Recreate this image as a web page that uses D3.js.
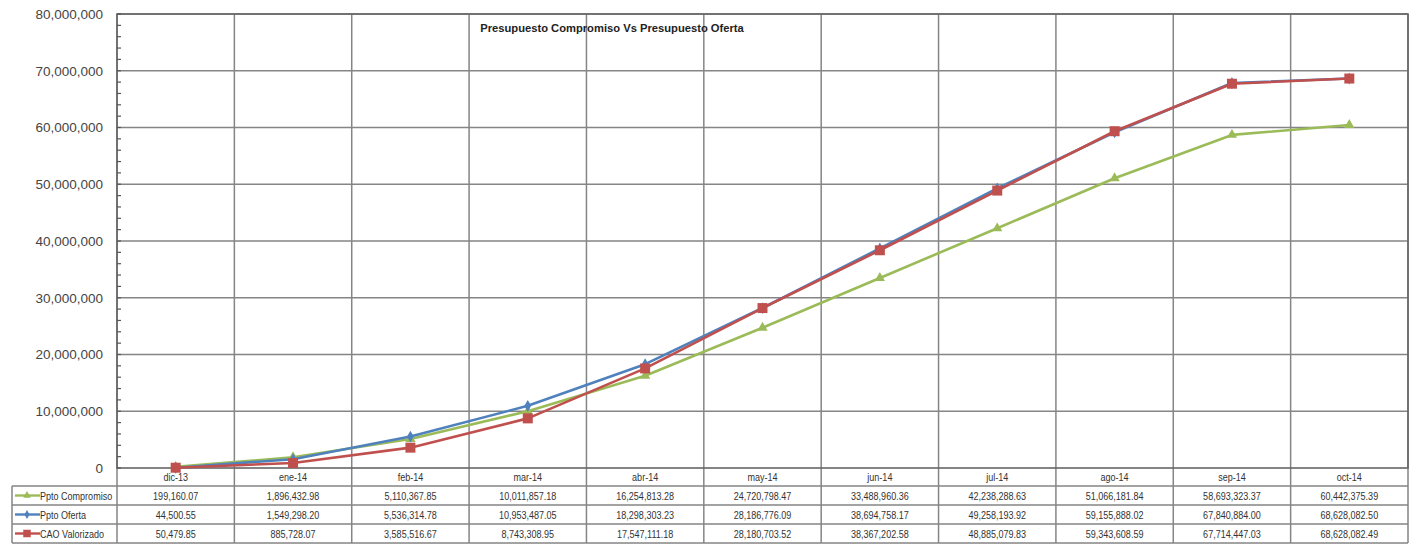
<!DOCTYPE html>
<html>
<head>
<meta charset="utf-8">
<script src="https://cdn.jsdelivr.net/npm/d3@7"></script>
<style>
  html, body { margin: 0; padding: 0; background: #fff; }
  svg { display: block; }
  text { font-family: "Liberation Sans", Arial, sans-serif; }
</style>
</head>
<body>
<svg id="chart" width="1415" height="547"></svg>
<script>
// Months shown on the category axis
const months = ["dic-13", "ene-14", "feb-14", "mar-14", "abr-14", "may-14", "jun-14", "jul-14", "ago-14", "sep-14", "oct-14"];

// Cumulative amounts per series
const pptoCompromiso = [199160.07, 1896432.98, 5110367.85, 10011857.18, 16254813.28, 24720798.47, 33488960.36, 42238288.63, 51066181.84, 58693323.37, 60442375.39];
const pptoOferta = [44500.55, 1549298.20, 5536314.78, 10953487.05, 18298303.23, 28186776.09, 38694758.17, 49258193.92, 59155888.02, 67840884.00, 68628082.50];
const caoValorizado = [50479.85, 885728.07, 3585516.67, 8743308.95, 17547111.18, 28180703.52, 38367202.58, 48885079.83, 59343608.59, 67714447.03, 68628082.49];

// Value axis ticks
const yTicks = [0, 10000000, 20000000, 30000000, 40000000, 50000000, 60000000, 70000000, 80000000];

const title = "Presupuesto Compromiso Vs Presupuesto Oferta";

const series = [
  { name: "Ppto Compromiso", values: pptoCompromiso, color: "#9BBB59", marker: "triangle" },
  { name: "Ppto Oferta", values: pptoOferta, color: "#4F81BD", marker: "diamond" },
  { name: "CAO Valorizado", values: caoValorizado, color: "#C0504D", marker: "square" }
];

const svg = d3.select("#chart");
const plot = { left: 117, right: 1408, top: 14, bottom: 468 };

const x = d3.scaleBand().domain(months).range([plot.left, plot.right]).padding(0);
const y = d3.scaleLinear().domain([0, 80000000]).range([plot.bottom, plot.top]);

const gridColor = "#858585";

// Horizontal gridlines
svg.append("g").selectAll("line").data(yTicks.slice(1)).join("line")
  .attr("x1", plot.left).attr("x2", plot.right)
  .attr("y1", d => y(d)).attr("y2", d => y(d))
  .attr("stroke", gridColor).attr("stroke-width", 1.5);

// Table rows geometry
const rowTop = 486, rowH = 19;
const tableBottom = rowTop + rowH * series.length;

// Vertical lines: run through the plot and the data table
const bounds = months.map(m => x(m)).concat([plot.right]);
svg.append("g").selectAll("line").data(bounds).join("line")
  .attr("x1", d => d).attr("x2", d => d)
  .attr("y1", plot.top).attr("y2", tableBottom)
  .attr("stroke", gridColor).attr("stroke-width", 1.5);

// Plot frame
svg.append("rect")
  .attr("x", plot.left).attr("y", plot.top)
  .attr("width", plot.right - plot.left).attr("height", plot.bottom - plot.top)
  .attr("fill", "none").attr("stroke", "#666").attr("stroke-width", 1.6);

// Y axis with minor ticks pointing inward
const yAxis = d3.axisLeft(y).tickValues(yTicks).tickSize(0).tickPadding(14)
  .tickFormat(d3.format(","));
const gy = svg.append("g").attr("transform", `translate(${plot.left},0)`).call(yAxis);
gy.select(".domain").remove();
gy.selectAll("text").attr("font-size", 13.5).attr("fill", "#444");

const minor = d3.range(0, 80000001, 2000000);
svg.append("g").selectAll("line").data(minor).join("line")
  .attr("x1", plot.left).attr("x2", plot.left + 4)
  .attr("y1", d => y(d)).attr("y2", d => y(d))
  .attr("stroke", "#555").attr("stroke-width", 1.2);

// Title
svg.append("text")
  .attr("x", 612).attr("y", 32)
  .attr("text-anchor", "middle")
  .attr("font-size", 11.2).attr("font-weight", "bold").attr("fill", "#222")
  .text(title);

// Marker shapes
function markerPath(type) {
  if (type === "triangle") return d3.symbol(d3.symbolTriangle, 45)();
  if (type === "diamond") return d3.symbol(d3.symbolDiamond, 40)();
  return d3.symbol(d3.symbolSquare, 100)();
}

const cx = d => x(d) + x.bandwidth() / 2;
const line = d3.line().x(d => cx(d.m)).y(d => y(d.v));

series.forEach(s => {
  const pts = s.values.map((v, i) => ({ m: months[i], v }));
  const g = svg.append("g");
  g.append("path").datum(pts).attr("d", line)
    .attr("fill", "none").attr("stroke", s.color).attr("stroke-width", 2.6)
    .attr("stroke-linejoin", "round");
  g.selectAll("path.mk").data(pts).join("path").attr("class", "mk")
    .attr("d", markerPath(s.marker))
    .attr("transform", d => `translate(${cx(d.m)},${y(d.v)})`)
    .attr("fill", s.color);
});

// Data table (text is horizontally condensed)
const tbl = svg.append("g").attr("class", "tbl");
const squeeze = 0.86;

tbl.selectAll("text.cat").data(months).join("text").attr("class", "cat")
  .attr("transform", d => `translate(${cx(d)},481) scale(${squeeze},1)`)
  .attr("text-anchor", "middle").attr("font-size", 10.5).attr("fill", "#333")
  .text(d => d);

// Horizontal row lines
const rowLines = d3.range(series.length + 1).map(i => rowTop + i * rowH);
tbl.selectAll("line.row").data(rowLines).join("line").attr("class", "row")
  .attr("x1", 12).attr("x2", plot.right)
  .attr("y1", d => d).attr("y2", d => d)
  .attr("stroke", gridColor).attr("stroke-width", 1.5);
tbl.append("line")
  .attr("x1", 12).attr("x2", 12).attr("y1", rowTop).attr("y2", tableBottom)
  .attr("stroke", gridColor).attr("stroke-width", 1.5);

const numFmt = d3.format(",.2f");
series.forEach((s, i) => {
  const yc = rowTop + i * rowH + rowH / 2;
  // legend key
  tbl.append("line").attr("x1", 15).attr("x2", 40).attr("y1", yc).attr("y2", yc)
    .attr("stroke", s.color).attr("stroke-width", 2.4);
  tbl.append("path").attr("d", markerPath(s.marker))
    .attr("transform", `translate(27,${yc}) scale(0.75)`).attr("fill", s.color);
  tbl.append("text").attr("transform", `translate(40,${yc + 4}) scale(${squeeze},1)`)
    .attr("font-size", 10.5).attr("fill", "#333").text(s.name);
  // values
  tbl.selectAll(null).data(s.values).join("text")
    .attr("transform", (d, j) => `translate(${cx(months[j])},${yc + 4}) scale(${squeeze},1)`)
    .attr("text-anchor", "middle").attr("font-size", 10.5).attr("fill", "#333")
    .text(d => numFmt(d));
});
</script>
</body>
</html>
